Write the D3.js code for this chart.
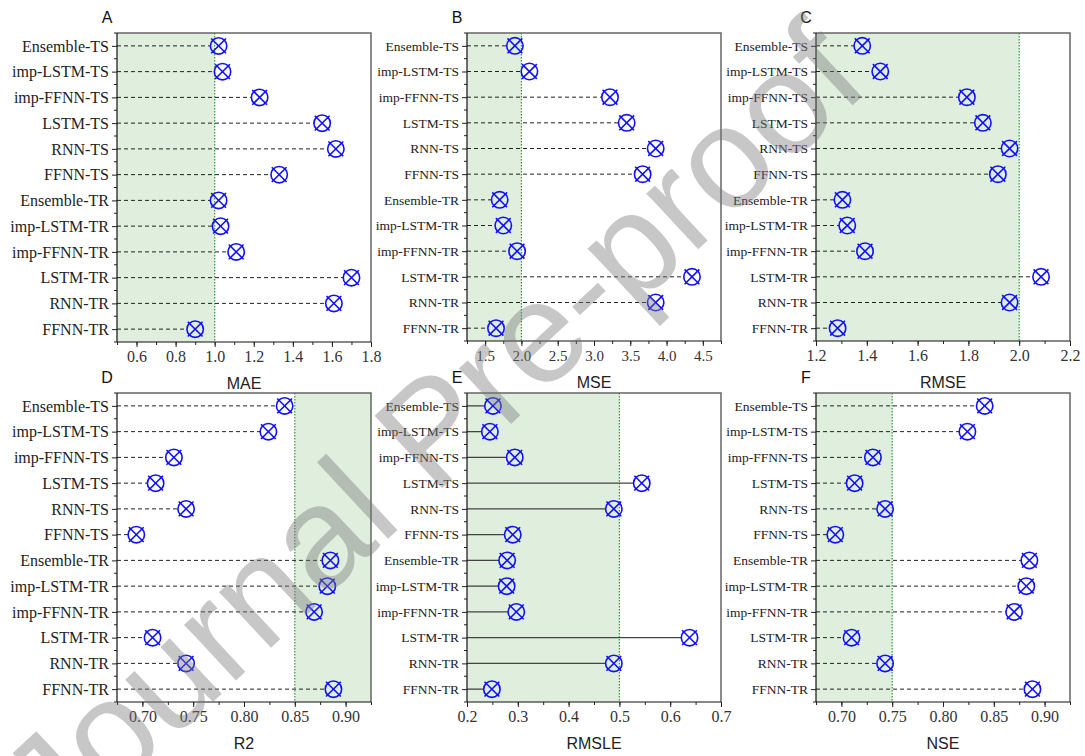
<!DOCTYPE html>
<html>
<head>
<meta charset="utf-8">
<script src="https://cdn.jsdelivr.net/npm/d3@7/dist/d3.min.js"></script>
<style>
  html, body { margin: 0; padding: 0; background: #fff; }
  svg { display: block; }
</style>
</head>
<body>
<svg id="chart" width="1085" height="756"></svg>
<script>
// Models, top to bottom
const categories = [
  "Ensemble-TS", "imp-LSTM-TS", "imp-FFNN-TS", "LSTM-TS", "RNN-TS", "FFNN-TS",
  "Ensemble-TR", "imp-LSTM-TR", "imp-FFNN-TR", "LSTM-TR", "RNN-TR", "FFNN-TR"
];

// Metric values per model (same order as categories)
const maeValues   = [1.02, 1.04, 1.23, 1.55, 1.62, 1.33, 1.02, 1.03, 1.11, 1.70, 1.61, 0.90];
const mseValues   = [1.91, 2.11, 3.22, 3.45, 3.85, 3.67, 1.70, 1.75, 1.94, 4.35, 3.85, 1.65];
const rmseValues  = [1.382, 1.453, 1.794, 1.857, 1.962, 1.916, 1.304, 1.323, 1.393, 2.086, 1.962, 1.285];
const r2Values    = [0.840, 0.824, 0.731, 0.713, 0.743, 0.694, 0.885, 0.882, 0.869, 0.710, 0.743, 0.888];
const rmsleValues = [0.251, 0.245, 0.294, 0.544, 0.489, 0.290, 0.279, 0.278, 0.297, 0.638, 0.489, 0.249];
const nseValues   = [0.841, 0.824, 0.731, 0.713, 0.743, 0.694, 0.885, 0.882, 0.870, 0.710, 0.743, 0.888];

// Panel letters and axis titles
const panelLetters = ["A", "B", "C", "D", "E", "F"];
const metricNames  = ["MAE", "MSE", "RMSE", "R2", "RMSLE", "NSE"];

// Acceptance thresholds for each metric
const thresholds = [1.0, 2.0, 2.0, 0.85, 0.5, 0.75];

// Axis tick values
const maeTicks   = [0.6, 0.8, 1.0, 1.2, 1.4, 1.6, 1.8];
const mseTicks   = [1.5, 2.0, 2.5, 3.0, 3.5, 4.0, 4.5];
const rmseTicks  = [1.2, 1.4, 1.6, 1.8, 2.0, 2.2];
const r2Ticks    = [0.70, 0.75, 0.80, 0.85, 0.90];
const rmsleTicks = [0.2, 0.3, 0.4, 0.5, 0.6, 0.7];
const nseTicks   = [0.70, 0.75, 0.80, 0.85, 0.90];

const svg = d3.select("#chart");

const panels = [
  { values: maeValues,   ticks: maeTicks,   domain: [0.5, 1.8],    minorStep: 0.1,   fmt: d3.format(".1f"),
    left: 117, top: 33, width: 254, height: 309, catFont: 16, tickFont: 16, shade: "below", stem: "dash" },
  { values: mseValues,   ticks: mseTicks,   domain: [1.25, 4.75],  minorStep: 0.25,  fmt: d3.format(".1f"),
    left: 467, top: 33, width: 254, height: 308, catFont: 13.5, tickFont: 15, shade: "below", stem: "dash" },
  { values: rmseValues,  ticks: rmseTicks,  domain: [1.2, 2.2],    minorStep: 0.1,   fmt: d3.format(".1f"),
    left: 816, top: 33, width: 254, height: 308, catFont: 13.5, tickFont: 16, shade: "below", stem: "dash" },
  { values: r2Values,    ticks: r2Ticks,    domain: [0.675, 0.925], minorStep: 0.025, fmt: d3.format(".2f"),
    left: 117, top: 393, width: 254, height: 309, catFont: 16, tickFont: 16, shade: "above", stem: "dash" },
  { values: rmsleValues, ticks: rmsleTicks, domain: [0.2, 0.7],    minorStep: 0.05,  fmt: d3.format(".1f"),
    left: 467, top: 393, width: 254, height: 309, catFont: 13.5, tickFont: 16, shade: "below", stem: "solid" },
  { values: nseValues,   ticks: nseTicks,   domain: [0.675, 0.925], minorStep: 0.025, fmt: d3.format(".2f"),
    left: 816, top: 393, width: 254, height: 309, catFont: 13.5, tickFont: 16, shade: "below", stem: "dash" }
];

const SERIF = "'Liberation Serif', 'Times New Roman', serif";
const SANS = "'Liberation Sans', Arial, sans-serif";
const MARKER_R = 8.2;
const MARKER_X = 7.4;

panels.forEach((p, i) => {
  const g = svg.append("g").attr("transform", `translate(${p.left},${p.top})`);
  const w = p.width, h = p.height;

  const x = d3.scaleLinear().domain(p.domain).range([0, w]);
  const y = d3.scalePoint().domain(categories).range([0, h]).padding(0.5);
  const thr = thresholds[i];

  // shaded acceptable region
  const x0 = p.shade === "below" ? x(p.domain[0]) : x(thr);
  const x1 = p.shade === "below" ? x(thr) : x(p.domain[1]);
  g.append("rect")
    .attr("x", x0).attr("y", 0)
    .attr("width", x1 - x0).attr("height", h)
    .attr("fill", "#dfeedd");

  // threshold line
  g.append("line")
    .attr("x1", x(thr)).attr("x2", x(thr))
    .attr("y1", 0).attr("y2", h)
    .attr("stroke", "#2e9a3a").attr("stroke-width", 1.2)
    .attr("stroke-dasharray", "1.5,1.5");

  // stems from the axis to each marker
  const rows = categories.map((c, k) => ({ cat: c, v: p.values[k] }));
  g.selectAll("line.stem").data(rows).enter().append("line")
    .attr("class", "stem")
    .attr("x1", 0)
    .attr("x2", d => Math.max(0, x(d.v) - MARKER_R))
    .attr("y1", d => y(d.cat)).attr("y2", d => y(d.cat))
    .attr("stroke", p.stem === "solid" ? "#444" : "#222")
    .attr("stroke-width", p.stem === "solid" ? 1.3 : 1)
    .attr("stroke-dasharray", p.stem === "solid" ? null : "4,3");

  // circle-x markers
  const m = g.selectAll("g.marker").data(rows).enter().append("g")
    .attr("class", "marker")
    .attr("transform", d => `translate(${x(d.v)},${y(d.cat)})`)
    .attr("stroke", "#1010ff").attr("stroke-width", 1.6).attr("fill", "none");
  m.append("circle").attr("r", MARKER_R);
  m.append("line").attr("x1", -MARKER_X).attr("y1", -MARKER_X).attr("x2", MARKER_X).attr("y2", MARKER_X);
  m.append("line").attr("x1", -MARKER_X).attr("y1", MARKER_X).attr("x2", MARKER_X).attr("y2", -MARKER_X);

  // frame: top and right
  g.append("path")
    .attr("d", `M0,0H${w}V${h}`)
    .attr("fill", "none").attr("stroke", "#666").attr("stroke-width", 1.5);

  // left axis with category labels
  const yAxis = g.append("g")
    .call(d3.axisLeft(y).tickSize(5).tickPadding(3));
  yAxis.select(".domain").remove();
  yAxis.selectAll("line").attr("stroke", "#222");
  yAxis.selectAll("text")
    .style("font-family", SERIF).style("font-size", p.catFont + "px").attr("fill", "#222");

  // minor ticks halfway between categories
  const step = y.step();
  const half = d3.range(categories.length + 1).map(k => k * step);
  g.selectAll("line.yminor").data(half).enter().append("line")
    .attr("class", "yminor")
    .attr("x1", -3).attr("x2", 0)
    .attr("y1", d => d).attr("y2", d => d)
    .attr("stroke", "#222");

  g.append("line")
    .attr("x1", 0).attr("x2", 0).attr("y1", 0).attr("y2", h)
    .attr("stroke", "#111").attr("stroke-width", 1.2);

  // bottom axis
  const minorTicks = d3.range(Math.round((p.domain[1] - p.domain[0]) / p.minorStep) + 1)
    .map(k => p.domain[0] + k * p.minorStep);
  const xMinor = g.append("g").attr("transform", `translate(0,${h})`)
    .call(d3.axisBottom(x).tickValues(minorTicks).tickSize(3).tickFormat(""));
  xMinor.select(".domain").remove();
  xMinor.selectAll("line").attr("stroke", "#222");

  const xAxis = g.append("g").attr("transform", `translate(0,${h})`)
    .call(d3.axisBottom(x).tickValues(p.ticks).tickFormat(p.fmt).tickSize(5).tickPadding(4));
  xAxis.select(".domain").remove();
  xAxis.selectAll("line").attr("stroke", "#222");
  xAxis.selectAll("text")
    .style("font-family", SERIF).style("font-size", p.tickFont + "px").attr("fill", "#333");

  g.append("line")
    .attr("x1", 0).attr("x2", w).attr("y1", h).attr("y2", h)
    .attr("stroke", "#111").attr("stroke-width", 1.2);

  // axis title
  g.append("text")
    .attr("x", w / 2).attr("y", h + 47)
    .attr("text-anchor", "middle")
    .attr("font-family", SANS).attr("font-size", 16).attr("fill", "#222")
    .text(metricNames[i]);

  // panel letter
  g.append("text")
    .attr("x", -10).attr("y", -10)
    .attr("text-anchor", "middle")
    .attr("font-family", SANS).attr("font-size", 16).attr("fill", "#111")
    .text(panelLetters[i]);
});

// watermark
svg.append("text")
  .attr("transform", "translate(432,430) rotate(-43)")
  .attr("text-anchor", "middle")
  .attr("dominant-baseline", "central")
  .attr("font-family", SANS)
  .attr("font-size", 144)
  .attr("fill", "#7a7a7a")
  .attr("fill-opacity", 0.42)
  .style("pointer-events", "none")
  .text("Journal Pre-proof");
</script>
</body>
</html>
